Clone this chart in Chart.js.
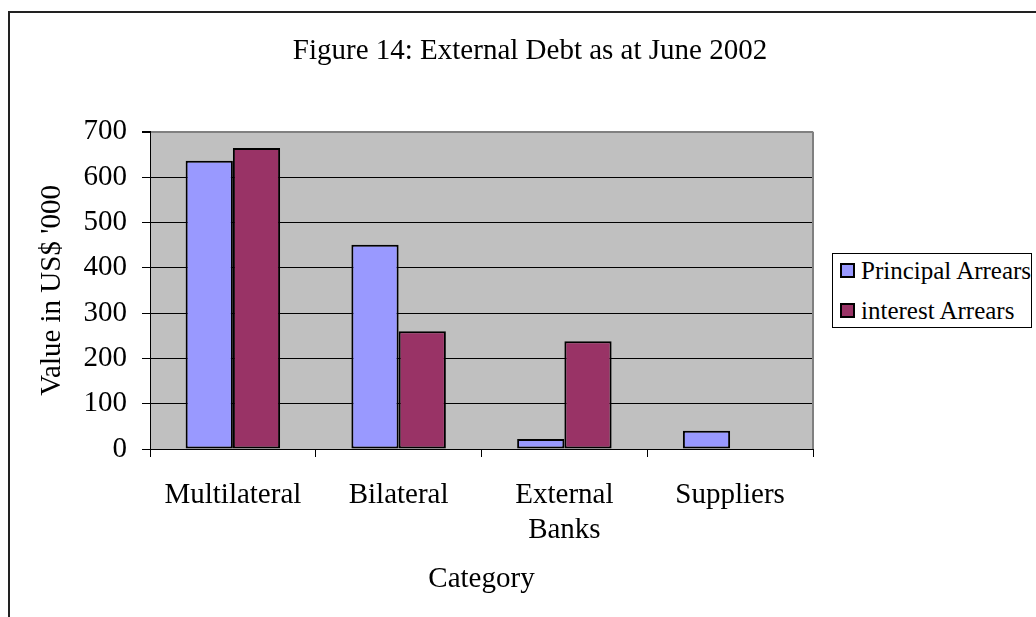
<!DOCTYPE html>
<html lang="en">
<head>
  <meta charset="UTF-8" />
  <title>External Debt as at June 2002</title>
  <script src="https://cdn.jsdelivr.net/npm/chart.js"></script>
  <style>
    body {
      margin: 0;
      background: #fff;
      font-family: "Liberation Serif", "Times New Roman", serif;
    }
    .wrap {
      position: relative;
      width: 1036px;
      height: 617px;
      overflow: hidden;
    }
    #debtChart {
      position: absolute;
      left: 0;
      top: 0;
    }
    /* legend box on the right */
    .legend {
      position: absolute;
      left: 832px;
      top: 253px;
      width: 198px;
      height: 73px;
      border: 1px solid #000;
      background: #fff;
      font-size: 25px;
      color: #000;
    }
    .legend .item {
      position: absolute;
      left: 7px;
      height: 30px;
      line-height: 30px;
      white-space: nowrap;
    }
    .legend .swatch {
      display: inline-block;
      width: 11px;
      height: 11px;
      border: 2px solid #000;
      margin-right: 6px;
      vertical-align: 1px;
    }
  </style>
</head>
<body>
  <div class="wrap">
    <canvas id="debtChart" width="1036" height="617"></canvas>
    <div class="legend" id="legend"></div>
  </div>

  <script>
    // Debt by category, US$ '000
    const categories = ['Multilateral', 'Bilateral', ['External', 'Banks'], 'Suppliers'];
    const principalArrears = [636, 451, 22, 40];
    const interestArrears = [664, 260, 238, 0];
    const yTicks = [0, 100, 200, 300, 400, 500, 600, 700];

    const serif = '"Liberation Serif", "Times New Roman", serif';

    // grey plot background, plot frame and the outer chart border
    const frame = {
      id: 'frame',
      beforeDraw(chart) {
        const { ctx, chartArea: a } = chart;
        ctx.save();
        ctx.fillStyle = '#fff';
        ctx.fillRect(0, 0, chart.width, chart.height);
        ctx.strokeStyle = '#222';
        ctx.lineWidth = 2;
        ctx.strokeRect(9, 12, chart.width + 20, chart.height + 20);
        ctx.fillStyle = '#c0c0c0';
        ctx.fillRect(a.left, a.top, a.right - a.left, a.bottom - a.top);
        ctx.restore();
      },
      beforeDatasetsDraw(chart) {
        const { ctx, chartArea: a } = chart;
        ctx.save();
        ctx.strokeStyle = '#808080';
        ctx.lineWidth = 2;
        ctx.beginPath();
        ctx.moveTo(a.right, a.top);
        ctx.lineTo(a.right, a.bottom);
        ctx.stroke();
        ctx.restore();
      }
    };

    const chart = new Chart(document.getElementById('debtChart'), {
      type: 'bar',
      data: {
        labels: categories,
        datasets: [
          {
            label: 'Principal Arrears',
            data: principalArrears,
            backgroundColor: '#9999ff',
            borderColor: '#000',
            borderWidth: 2,
            borderSkipped: false
          },
          {
            label: 'interest Arrears',
            data: interestArrears,
            backgroundColor: '#993366',
            borderColor: '#000',
            borderWidth: 2,
            borderSkipped: false
          }
        ]
      },
      options: {
        responsive: false,
        animation: false,
        devicePixelRatio: 1,
        layout: { padding: { left: 24, top: 0, right: 0, bottom: 0 } },
        datasets: {
          bar: { categoryPercentage: 0.57, barPercentage: 1.0 }
        },
        plugins: {
          legend: { display: false },
          tooltip: { enabled: false },
          title: {
            display: true,
            text: 'Figure 14: External Debt as at June 2002',
            color: '#000',
            font: { family: serif, size: 29, weight: 'normal' },
            padding: { top: 34, bottom: 63 }
          }
        },
        scales: {
          x: {
            afterFit(scale) { scale.height = 168; },
            grid: {
              offset: true,
              drawOnChartArea: false,
              tickLength: 8,
              tickColor: '#000',
              color: '#000'
            },
            border: { color: '#000', width: 1 },
            ticks: {
              color: '#000',
              padding: 21,
              font: { family: serif, size: 29 }
            },
            title: {
              display: true,
              text: 'Category',
              color: '#000',
              font: { family: serif, size: 29 },
              padding: { top: 0, bottom: 20 }
            }
          },
          y: {
            min: 0,
            max: 700,
            afterFit(scale) { scale.width = 126; },
            afterBuildTicks(scale) {
              scale.ticks = yTicks.map(v => ({ value: v }));
            },
            grid: {
              color: ctx => (ctx.tick && ctx.tick.value === 700 ? '#808080' : '#000'),
              lineWidth: ctx => (ctx.tick && ctx.tick.value === 700 ? 2 : 1),
              tickLength: 8,
              tickColor: '#000'
            },
            border: { color: '#000', width: 1 },
            ticks: {
              color: '#000',
              padding: 15,
              font: { family: serif, size: 29 }
            },
            title: {
              display: true,
              text: "Value in US$ '000",
              color: '#000',
              font: { family: serif, size: 29 },
              padding: { top: 11, bottom: 0 }
            }
          },
          // empty right-hand strip that leaves room for the legend
          side: {
            type: 'linear',
            position: 'right',
            afterFit(scale) { scale.width = 223; },
            grid: { display: false },
            border: { display: false },
            ticks: { display: false }
          }
        }
      },
      plugins: [frame]
    });

    // legend entries built from the chart's datasets
    const legendEl = document.getElementById('legend');
    chart.data.datasets.forEach((ds, i) => {
      const item = document.createElement('div');
      item.className = 'item';
      item.style.top = (2 + i * 40) + 'px';
      const sw = document.createElement('span');
      sw.className = 'swatch';
      sw.style.background = ds.backgroundColor;
      item.appendChild(sw);
      item.appendChild(document.createTextNode(ds.label));
      legendEl.appendChild(item);
    });
  </script>
</body>
</html>
